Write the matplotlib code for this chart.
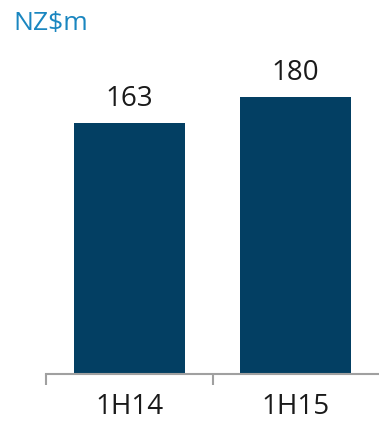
import matplotlib.pyplot as plt

periods = ['1H14', '1H15']
values = [163, 180]

bar_color = '#033f63'
axis_color = '#a0a0a0'

plt.rcParams['font.family'] = ['Open Sans', 'DejaVu Sans']

fig = plt.figure(figsize=(3.79, 4.22), dpi=100)
ax = fig.add_axes([46 / 379, 48 / 422, 333 / 379, 324 / 422])

x = range(len(periods))
bars = ax.bar(x, values, width=0.665, color=bar_color)

# value labels sit just above each bar
for rect, v in zip(bars, values):
    ax.text(rect.get_x() + rect.get_width() / 2, v + 10.8, str(v),
            ha='center', va='baseline', fontsize=20, color='#1a1a1a')

ax.set_xlim(-0.5, 1.5)
ax.set_ylim(0, 210.4)

for side in ['top', 'right', 'left']:
    ax.spines[side].set_visible(False)
ax.spines['bottom'].set_color(axis_color)
ax.spines['bottom'].set_linewidth(1.5)

ax.set_yticks([])
ax.set_xticks([-0.5, 0.5])
ax.set_xticklabels([])
ax.tick_params(axis='x', length=8, width=1.5, color=axis_color)
for i, label in zip(x, periods):
    ax.text(i, -26.2, label, ha='center', va='baseline', fontsize=20,
            color='#1a1a1a')

fig.text(13 / 379, 1 - 30 / 422, 'NZ$m', fontsize=19, color='#1a86c0',
         ha='left', va='baseline')

fig.savefig('out.png', dpi=100)
